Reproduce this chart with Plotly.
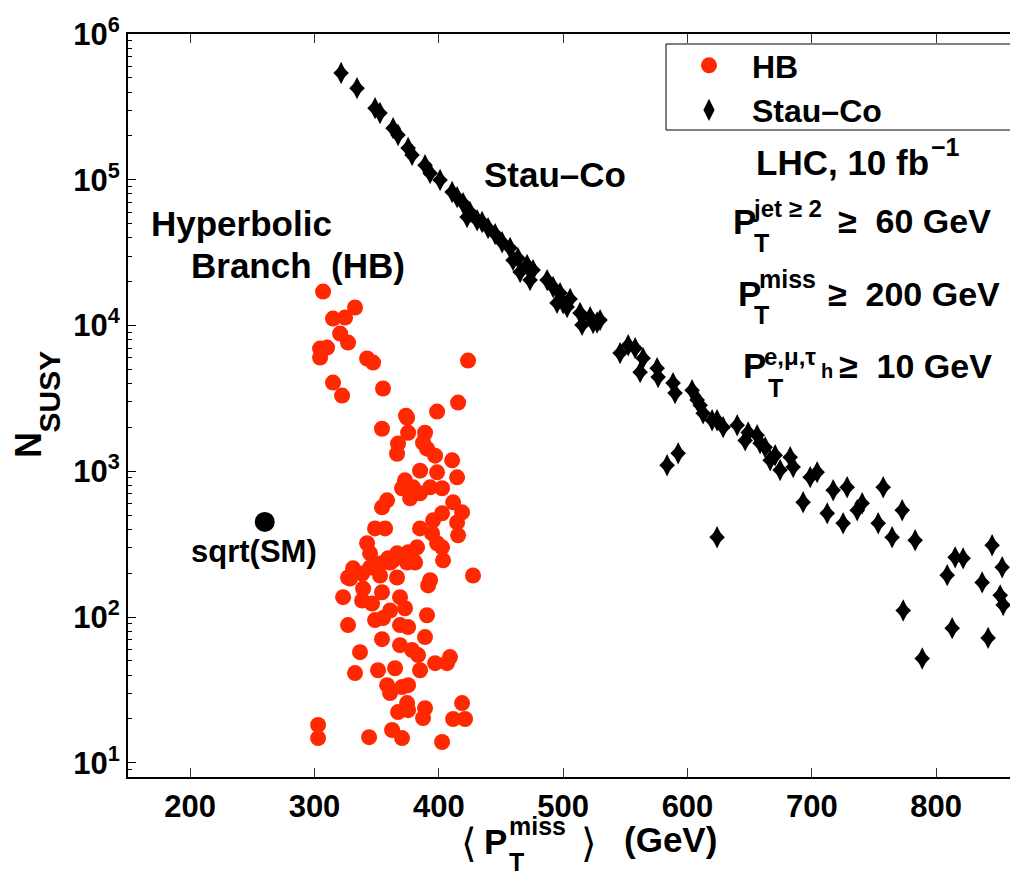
import plotly.graph_objects as go

# ---------------- data ----------------
hb_x = [306.9, 332.6, 314.9, 324.6, 320.6, 327.0, 304.5, 310.1, 304.5, 342.3,
        347.1, 423.5, 314.9, 322.2, 355.1, 415.5, 398.6, 373.6, 354.3, 375.3,
        388.9, 367.2, 366.4, 387.3, 390.5, 397.0, 410.7, 384.9, 398.6, 414.7,
        372.8, 370.4, 379.3, 384.9, 376.9, 393.0, 402.6, 358.4, 354.3, 411.5,
        418.7, 402.6, 395.4, 414.7, 348.7, 356.8, 384.9, 394.6, 415.5, 342.3,
        398.6, 402.6, 382.5, 375.3, 366.4, 359.2, 379.3, 403.4, 344.7, 331.0,
        344.7, 427.5, 327.0, 352.7, 366.4, 393.0, 352.7, 360.8, 374.5, 380.9,
        338.3, 391.4, 339.1, 354.3, 323.0, 338.3, 346.3, 368.8, 372.8, 360.8,
        348.7, 355.1, 327.0, 368.8, 375.3, 390.5, 388.9, 354.3, 368.8, 378.5,
        383.3, 336.6, 384.9, 397.0, 406.6, 409.0, 332.6, 351.1, 364.8, 358.4,
        370.4, 375.3, 360.8, 374.5, 367.2, 375.3, 388.9, 387.3, 418.7, 411.5,
        421.1, 302.9, 302.9, 343.9, 362.4, 370.4, 402.6, 388.9, 448.5, 491.9,
        374.5, 363.2, 328.6]
hb_y = [17100, 13300, 11170, 11350, 8810, 7640, 6950, 7060, 6030, 5940,
        5570, 5750, 4060, 3310, 3700, 2960, 2570, 2410, 1960, 1840,
        1840, 1550, 1320, 1570, 1430, 1280, 1190, 1010, 984, 910,
        867, 765, 777, 706, 653, 777, 765, 632, 566, 613,
        523, 515, 461, 446, 406, 406, 406, 375, 364, 321,
        321, 301, 301, 278, 274, 253, 245, 245, 274, 216,
        219, 193, 187, 193, 187, 179, 233, 237, 237, 237,
        199, 165, 157, 148, 137, 130, 124, 137, 115, 111,
        95.4, 98.4, 88.1, 88.1, 85.4, 103, 72.9, 70.6, 64.2, 59.4,
        54.9, 57.5, 43.2, 48.3, 48.3, 53.2, 41.3, 43.2, 44.6, 34.1,
        33.1, 34.1, 30.1, 25.7, 22.3, 23.0, 23.7, 20.3, 25.7, 20.0,
        20.0, 18.2, 14.8, 15.0, 16.8, 14.8, 13.9, 8, 8, 8,
        2330, 245, 184]

sc_x = [321.4, 334.2, 348.7, 352.7, 363.2, 367.2, 375.3, 378.5, 388.9, 393.0,
        401.0, 410.7, 414.7, 419.5, 425.1, 430.8, 439.6, 445.3, 450.9, 457.3,
        463.7, 465.4, 471.0, 475.8, 487.1, 491.9, 497.5, 500.0, 505.6, 515.2,
        521.7, 527.3, 545.8, 552.3, 557.9, 564.3, 575.6, 576.4, 588.4, 590.0,
        603.7, 607.8, 612.6, 623.8, 628.7, 640.0, 583.6, 592.5, 623.8, 656.0,
        658.4, 666.5, 674.5, 682.6, 685.0, 693.0, 698.7, 704.3, 712.4, 717.2,
        725.2, 728.4, 736.5, 740.5, 753.4, 757.4, 764.6, 772.7, 783.1, 773.5,
        788.8, 812.9, 808.9, 815.3, 821.7, 837.0, 845.0, 841.8, 853.1, 851.5,
        853.9, 859.6, 648.8, 662.5, 670.5, 422.7, 434.8, 459.7, 473.4, 495.1,
        503.2, 513.6, 524.1, 529.7, 561.9, 610.2, 619.8, 646.4]
sc_y = [540000, 425000, 310000, 287000, 226000, 203000, 165000, 148000, 126000, 111000,
        99600, 82400, 76000, 69200, 60000, 52800, 46600, 42400, 37300, 34000,
        29000, 23300, 26000, 24000, 20500, 18400, 16700, 14200, 15200, 10100,
        11400, 10500, 6470, 7330, 7000, 5970, 5100, 4430, 4030, 3440,
        3600, 3080, 2500, 2240, 2010, 2070, 1100, 1330, 353, 1770,
        1560, 1190, 1020, 1250, 1070, 614, 912, 987, 515, 741,
        440, 778, 541, 604, 440, 778, 353, 541, 337, 111,
        52, 84, 194, 257, 253, 173, 311, 72, 220, 141,
        121, 53, 1850, 1460, 1290, 55500, 51300, 28100, 20500, 14300,
        13400, 12200, 10400, 10900, 4790, 2840, 2240, 1630]

sm_x = [260]
sm_y = [450]

x_tick_vals = [200, 300, 400, 500, 600, 700, 800]
y_tick_vals = [10, 100, 1000, 10000, 100000, 1000000]
y_tick_text = ["10<sup>1</sup>", "10<sup>2</sup>", "10<sup>3</sup>",
               "10<sup>4</sup>", "10<sup>5</sup>", "10<sup>6</sup>"]
y_minor_vals = [9] + [m * 10 ** k for k in range(1, 6) for m in range(2, 10)]

# ---------------- layout constants ----------------
W, H = 1010, 872
ML, MT, MR, MB = 128, 34, 0, 95
PW, PH = W - ML - MR, H - MT - MB
FONT = "Liberation Sans, Arial, Helvetica, sans-serif"
RED = "rgb(255,40,0)"

fig = go.Figure()
fig.add_trace(go.Scatter(x=hb_x, y=hb_y, mode="markers", name="HB",
                         marker=dict(symbol="circle", size=16, color=RED),
                         cliponaxis=False))
# Stau-Co diamonds: a tall diamond overlaid with a smaller square diamond gives
# the broader, MATLAB-like diamond shape
fig.add_trace(go.Scatter(x=sc_x, y=sc_y, mode="markers", name="Stau\u2013Co",
                         legendgroup="sc",
                         marker=dict(symbol="diamond-tall", size=16, color="black"),
                         cliponaxis=False))
fig.add_trace(go.Scatter(x=sc_x, y=sc_y, mode="markers", showlegend=False,
                         legendgroup="sc", hoverinfo="skip",
                         marker=dict(symbol="diamond", size=12, color="black"),
                         cliponaxis=False))
fig.add_trace(go.Scatter(x=sm_x, y=sm_y, mode="markers", showlegend=False,
                         marker=dict(symbol="circle", size=20, color="black")))


def pp(xpx, ypx):
    return (xpx - ML) / PW, (H - MB - ypx) / PH


def label(text, xpx, ypx, size, anchor="left", weight="bold", family=FONT, angle=0):
    x, y = pp(xpx, ypx)
    fig.add_annotation(text=text, x=x, y=y, xref="paper", yref="paper",
                       xanchor=anchor, yanchor="middle", showarrow=False,
                       textangle=angle, borderpad=0,
                       font=dict(size=size, family=family, color="black", weight=weight))


NB = "\u00a0"
# in-plot labels
label("Stau\u2013Co", 483, 174.5, 35)
label("Hyperbolic", 150, 224, 35)
label("Branch" + NB * 2 + "(HB)", 190, 265, 35)
label("sqrt(SM)", 190, 551, 31)
label("LHC, 10 fb", 755, 162.5, 35)
label("\u22121", 930, 147, 25)

label("P", 732, 221, 35)
label("jet \u2265 2", 752, 208, 24)
label("T", 753, 243, 25)
label("\u2265" + NB * 2 + "60 GeV", 837, 221, 34)

label("P", 737, 293.5, 35)
label("miss", 758, 279, 25)
label("T", 753, 315, 25)
label("\u2265" + NB * 2 + "200 GeV", 827, 293.5, 34)

label("P", 742, 365.5, 35)
label("e,\u03bc,\u03c4", 763, 356, 24)
label("h", 820, 371, 20)
label("T", 767, 387.5, 25)
label("\u2265" + NB * 2 + "10 GeV", 838, 365.5, 34)

# x-axis title
label("\u27e8", 460, 843, 40, weight="normal", family="DejaVu Sans")
label("P", 483, 841.5, 35)
label("miss", 508, 826, 25)
label("T", 508, 862, 25)
label("\u27e9", 580, 843, 40, weight="normal", family="DejaVu Sans")
label("(GeV)", 623, 839.5, 35)

# y-axis title
label("N", 28.5, 445.5, 36, anchor="center", angle=-90)
label("SUSY", 48.5, 392, 30, anchor="center", angle=-90)

# legend frame (extends past the right edge, as in the reference)
lx0, ly0 = pp(666, 130)
lx1, ly1 = pp(1030, 44)
fig.add_shape(type="rect", xref="paper", yref="paper", x0=lx0, x1=lx1, y0=ly0, y1=ly1,
              line=dict(color="black", width=1), fillcolor="white", layer="below")

fig.update_layout(
    width=W, height=H,
    margin=dict(l=ML, r=MR, t=MT, b=MB, autoexpand=False),
    paper_bgcolor="white", plot_bgcolor="rgba(0,0,0,0)",
    font=dict(family=FONT, color="black", weight="bold"),
    showlegend=True,
    legend=dict(x=pp(666, 0)[0], y=pp(0, 38)[1], xanchor="left", yanchor="top",
                borderwidth=0, bgcolor="rgba(0,0,0,0)",
                font=dict(size=32, family=FONT, color="black", weight="bold"),
                itemwidth=76, tracegroupgap=0),
    xaxis=dict(range=[150, 859.4], tickmode="array", tickvals=x_tick_vals,
               ticks="inside", ticklen=9, tickwidth=1, tickcolor="#333",
               showline=True, linecolor="black", linewidth=2, mirror="ticks",
               showgrid=False, zeroline=False, ticklabelstandoff=1,
               tickfont=dict(size=31, family=FONT, color="black", weight="bold")),
    yaxis=dict(type="log", range=[0.90309, 6], tickmode="array",
               tickvals=y_tick_vals, ticktext=y_tick_text,
               ticks="inside", ticklen=8, tickwidth=1, tickcolor="black",
               minor=dict(tickmode="array", tickvals=y_minor_vals, ticks="inside",
                          ticklen=4, tickwidth=1, tickcolor="black", showgrid=False),
               showline=True, linecolor="black", linewidth=2, mirror=False,
               showgrid=False, zeroline=False, ticklabelstandoff=0,
               tickfont=dict(size=31, family=FONT, color="black", weight="bold")),
)

fig.write_html("out.html")
